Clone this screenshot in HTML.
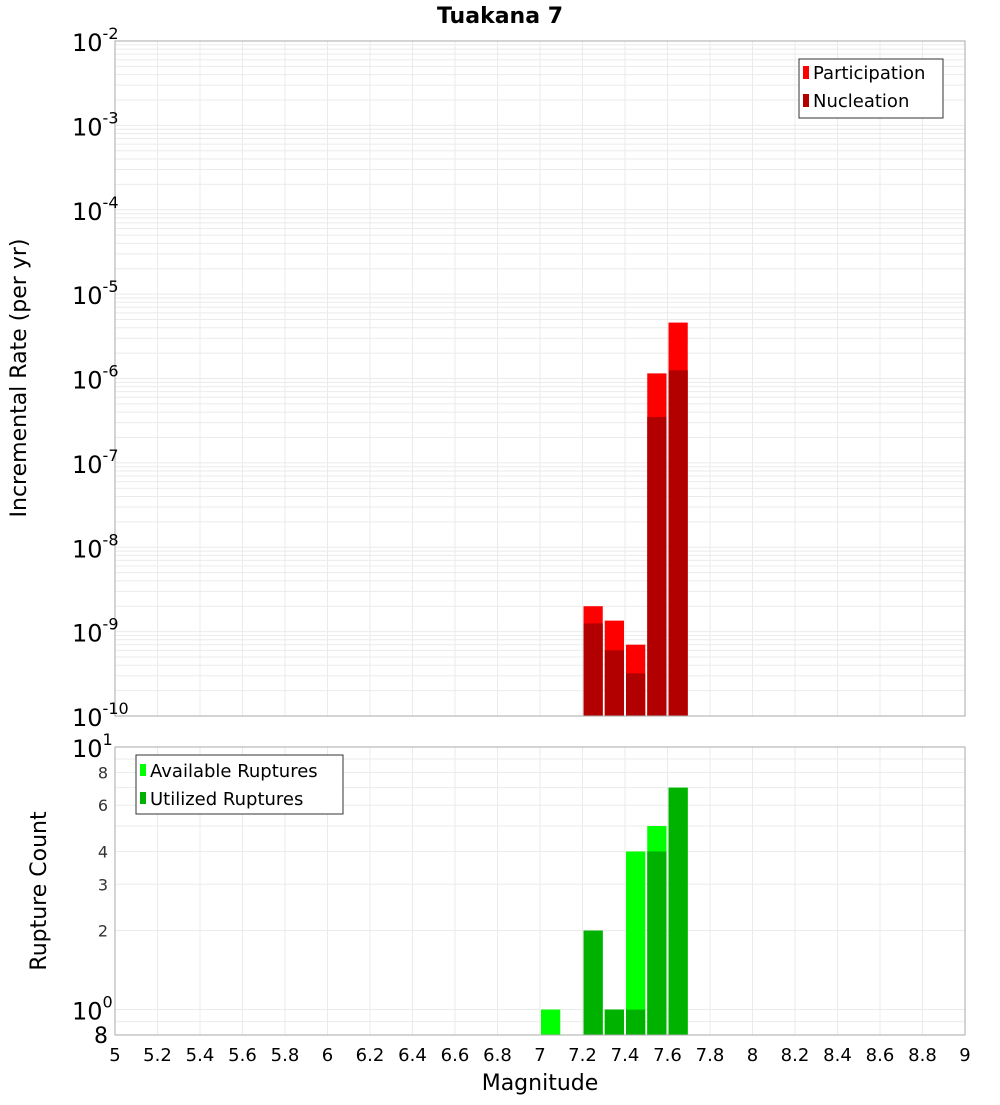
<!DOCTYPE html>
<html><head><meta charset="utf-8"><style>
body{margin:0;background:#fff;font-family:"Liberation Sans","DejaVu Sans",sans-serif}
svg text{font-family:"DejaVu Sans","Liberation Sans",sans-serif}
</style></head><body>
<svg id="chart" width="1000" height="1100" xmlns="http://www.w3.org/2000/svg">
<text x="500" y="23" text-anchor="middle" font-size="22" font-weight="bold">Tuakana 7</text>
<g id="topg"></g><g id="botg"></g>
<text transform="translate(26,378) rotate(-90)" text-anchor="middle" font-size="22">Incremental Rate (per yr)</text>
<text transform="translate(46,891) rotate(-90)" text-anchor="middle" font-size="22">Rupture Count</text>
<text x="540" y="1090" text-anchor="middle" font-size="22">Magnitude</text>
<g>
<rect x="799" y="59" width="144" height="59" fill="#fff" stroke="#333"/>
<rect x="803" y="66" width="6" height="13" fill="#ff0000"/>
<text x="813" y="79" font-size="18">Participation</text>
<rect x="803" y="94" width="6" height="13" fill="#b20000"/>
<text x="813" y="107" font-size="18">Nucleation</text>
</g>
<g>
<rect x="136" y="755" width="207" height="59" fill="#fff" stroke="#333"/>
<rect x="140" y="764" width="6" height="12" fill="#00ff00"/>
<text x="150" y="777" font-size="18">Available Ruptures</text>
<rect x="140" y="792" width="6" height="12" fill="#00b200"/>
<text x="150" y="805" font-size="18">Utilized Ruptures</text>
</g>
</svg>
<script>
const mags=[7.05,7.15,7.25,7.35,7.45,7.55,7.65];
const participation=[0,0,2e-9,1.35e-9,7e-10,1.15e-6,4.6e-6];
const nucleation=[0,0,1.25e-9,6e-10,3.2e-10,3.5e-7,1.25e-6];
const available=[1,0,2,1,4,5,7];
const utilized=[0,0,2,1,1,4,7];
const xTicks=[5,5.2,5.4,5.6,5.8,6,6.2,6.4,6.6,6.8,7,7.2,7.4,7.6,7.8,8,8.2,8.4,8.6,8.8,9];
const topExps=[-2,-3,-4,-5,-6,-7,-8,-9,-10];
const botTicks=[8,6,4,3,2];
const NS="http://www.w3.org/2000/svg";
const X0=115,X1=965;
const x=m=>X0+(m-5)/4*(X1-X0);
const yT=v=>41+(-2-Math.log10(v))*(675/8);
const yB=v=>747+(1-Math.log10(v))*(1035-747)/(1-Math.log10(0.8));
function mk(p,t,a){const e=document.createElementNS(NS,t);for(const k in a)e.setAttribute(k,a[k]);p.appendChild(e);return e;}
const topG=document.getElementById('topg'),botG=document.getElementById('botg'),svgEl=document.getElementById('chart');
for(let d=-10;d<-2;d++)for(let k=1;k<10;k++){const y=yT(k*Math.pow(10,d));
const l=mk(topG,'line',{x1:X0,x2:X1,y1:y,y2:y,stroke:'#ebebeb','stroke-width':1});

}
for(let v=1;v<=10;v++){const y=yB(v);const l=mk(botG,'line',{x1:X0,x2:X1,y1:y,y2:y,stroke:'#ebebeb'});

}
{const l=mk(botG,'line',{x1:X0,x2:X1,y1:yB(0.9),y2:yB(0.9),stroke:'#ebebeb'});

}
xTicks.forEach(m=>{
 const a=mk(topG,'line',{x1:x(m),x2:x(m),y1:41,y2:716,stroke:'#ebebeb'});
 
 
 const b=mk(botG,'line',{x1:x(m),x2:x(m),y1:747,y2:1035,stroke:'#ebebeb'});
 
 
 const t=mk(svgEl,'text',{x:x(m),y:1061,'text-anchor':'middle','font-size':18});
 t.textContent=String(m);
 
 
});
const bw=x(5.1)-x(5);
mags.forEach((m,i)=>{
 const xl=x(m)-bw/2+1,w=bw-2;
 if(participation[i]>0){const r=mk(topG,'rect',{x:xl,y:yT(participation[i]),width:w,height:716-yT(participation[i]),fill:'#ff0000'});
 
 }
 if(nucleation[i]>0){const r=mk(topG,'rect',{x:xl,y:yT(nucleation[i]),width:w,height:716-yT(nucleation[i]),fill:'#b20000'});
 
 }
 if(available[i]>0){const r=mk(botG,'rect',{x:xl,y:yB(available[i]),width:w,height:1035-yB(available[i]),fill:'#00ff00'});
 
 }
 if(utilized[i]>0){const r=mk(botG,'rect',{x:xl,y:yB(utilized[i]),width:w,height:1035-yB(utilized[i]),fill:'#00b200'});
 
 }
});
const f1=mk(topG,'rect',{x:X0,y:41,width:X1-X0,height:675,fill:'none',stroke:'#aaa'});


const f2=mk(botG,'rect',{x:X0,y:747,width:X1-X0,height:288,fill:'none',stroke:'#aaa'});


topExps.forEach(e=>{
 const y=yT(Math.pow(10,e));
 const t=mk(svgEl,'text',{x:72,y:y+10,'font-size':24});
 t.innerHTML='10<tspan dy="-12" font-size="16">'+e+'</tspan>';
 
 
});
[[10,'1'],[1,'0']].forEach(([v,e])=>{
 const t=mk(svgEl,'text',{x:72,y:yB(v)+10,'font-size':24});
 t.innerHTML='10<tspan dy="-12" font-size="16">'+e+'</tspan>';
 
 
});
botTicks.forEach(v=>{
 const t=mk(svgEl,'text',{x:108,y:yB(v)+6,'text-anchor':'end','font-size':16,fill:'#333'});
 t.textContent=v;
 
 
});
{const t=mk(svgEl,'text',{x:108,y:1043,'text-anchor':'end','font-size':22});
t.textContent='8';

}
</script>
</body></html>
